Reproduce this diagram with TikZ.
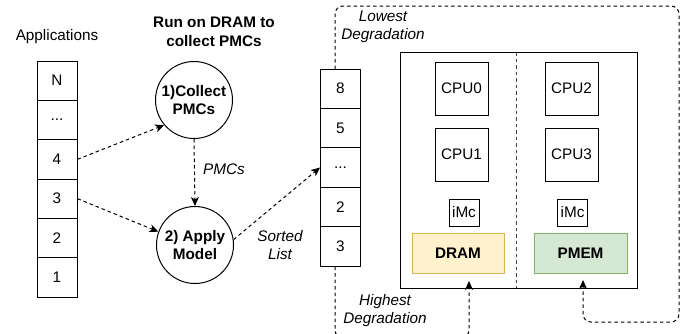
\documentclass[tikz,border=0pt]{standalone}
\usepackage{fontspec}
\setmainfont{Liberation Sans}
\usetikzlibrary{arrows.meta,calc}
\definecolor{dramfill}{HTML}{FFF2CC}
\definecolor{dramline}{HTML}{D6B656}
\definecolor{pmemfill}{HTML}{D5E8D4}
\definecolor{pmemline}{HTML}{82B366}
\tikzset{
  every node/.style={font=\fontsize{15.3}{18}\selectfont, inner sep=0pt, align=center},
  cell/.style={draw, line width=1pt, minimum width=40pt, minimum height=39.4pt},
  stage/.style={draw, line width=1pt, circle, minimum size=77pt, font=\fontsize{15.3}{18}\selectfont\bfseries},
  cpu/.style={draw, line width=1pt, minimum width=53pt, minimum height=53pt},
  imc/.style={draw, line width=1pt, minimum width=30pt, minimum height=27pt},
  mem/.style={draw, line width=1pt, minimum width=92pt, minimum height=40pt, font=\fontsize{15.3}{18}\selectfont\bfseries},
  flow/.style={line width=1pt, dash pattern=on 3.5pt off 3pt, -{Stealth[length=9pt,width=8pt,inset=2.5pt]}},
  note/.style={font=\fontsize{15.3}{18}\selectfont\itshape},
}
\begin{document}
\begin{tikzpicture}[x=1pt,y=-1pt]
\useasboundingbox (0,0) rectangle (691,333);

% application queue
\node (apps) at (57,37) {Applications};
\node[cell] (aN) at (57,80.7) {N};
\node[cell] (adots) at (57,120.0) {...};
\node[cell] (a4) at (57,159.3) {4};
\node[cell] (a3) at (57,198.7) {3};
\node[cell] (a2) at (57,238.0) {2};
\node[cell] (a1) at (57,277.3) {1};

% profiling stages
\node[font=\fontsize{15.3}{19}\selectfont\bfseries] (title) at (214,32) {Run on DRAM to\\collect PMCs};
\node[stage] (collect) at (194,100) {1)Collect\\PMCs};
\node[stage] (apply) at (195,245) {2) Apply\\Model};

% sorted list
\node[cell] (s8) at (340.5,88.7) {8};
\node[cell] (s5) at (340.5,128.1) {5};
\node[cell] (sdots) at (340.5,167.5) {...};
\node[cell] (s2) at (340.5,206.9) {2};
\node[cell] (s3) at (340.5,246.3) {3};

% two-socket machine
\node[draw, line width=1pt, minimum width=237pt, minimum height=236pt] (machine) at (518.5,170) {};
\coordinate (divtop) at (516,52);
\coordinate (divbot) at (516,288);
\draw[line width=1pt, dash pattern=on 3.5pt off 3pt, black!75] (divtop) -- (divbot);
\node[cpu] (cpu0) at (461.5,88.5) {CPU0};
\node[cpu] (cpu1) at (461.5,154.5) {CPU1};
\node[cpu] (cpu2) at (571.5,88.5) {CPU2};
\node[cpu] (cpu3) at (571.5,154.5) {CPU3};
\node[imc] (imc0) at (464,212.5) {iMc};
\node[imc] (imc1) at (572.5,212.5) {iMc};
\node[mem, fill=dramfill, draw=dramline] (dram) at (458,253) {DRAM};
\node[mem, fill=pmemfill, draw=pmemline, minimum width=93pt] (pmem) at (580.5,253) {PMEM};

% flows between stages
\draw[flow] (a4.east) -- (collect.220);
\draw[flow] (a3.east) -- (apply.160);
\draw[flow] (collect.south) -- (apply.north);
\node[note] (pmcs) at (224,169) {PMCs};
\draw[flow] (apply.8) -- (sdots.west);
\node[note] (sorted) at (280,245) {Sorted\\List};

% placement paths
\coordinate (topout) at (335,69);
\coordinate (pmemin) at (583,280);
\draw[flow, rounded corners=8pt] (topout) -- (335,6) -- (679,6) -- (679,322) -- (583,322) -- (pmemin);
\node[note] (lowest) at (383,27) {Lowest\\Degradation};
\begin{scope}
\clip (0,0) rectangle (691,333);
\coordinate (botout) at (335,266.5);
\coordinate (dramin) at (469,281);
\draw[flow, rounded corners=8pt] (botout) -- (335,338) -- (469,338) -- (dramin);
\end{scope}
\node[note] (highest) at (385,311) {Highest\\Degradation};
\end{tikzpicture}
\end{document}
